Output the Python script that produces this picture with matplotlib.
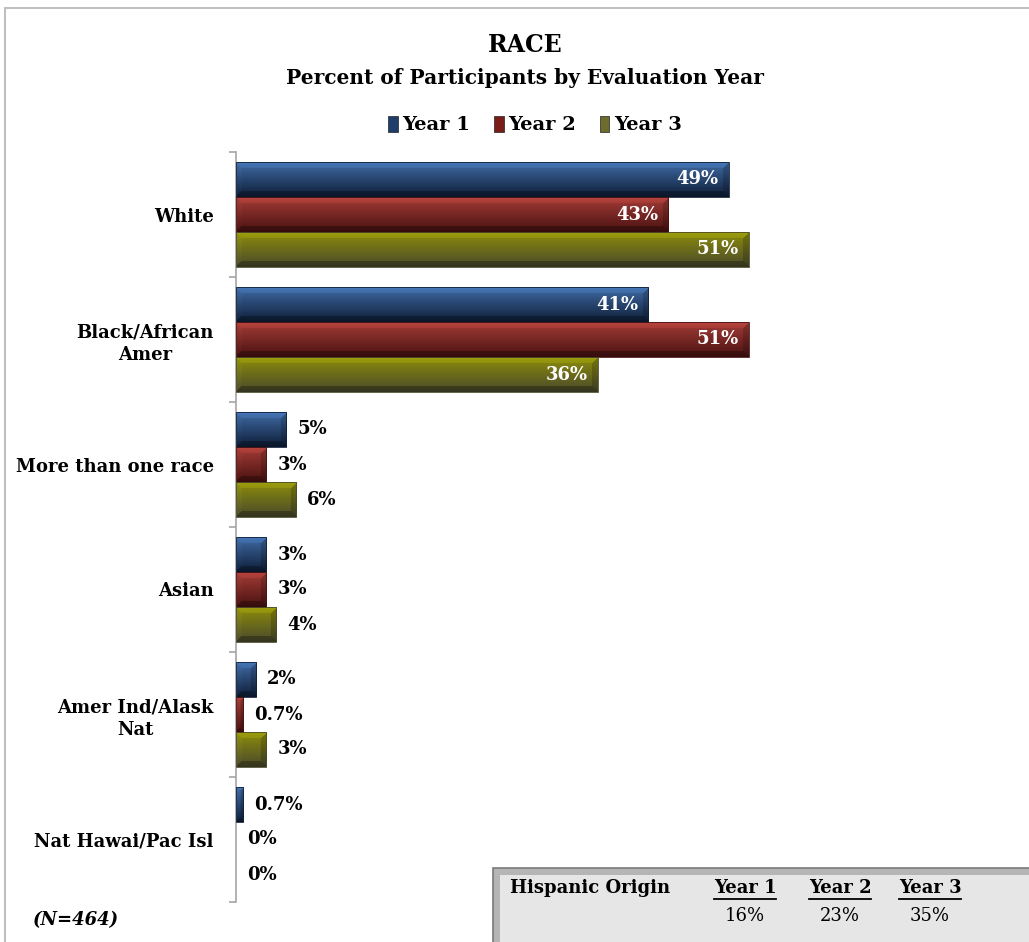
import numpy as np
import matplotlib.pyplot as plt
from matplotlib.patches import Rectangle, Patch
from matplotlib.colors import to_rgb

categories = ['White', 'Black/African\nAmer', 'More than one race', 'Asian',
              'Amer Ind/Alask\nNat', 'Nat Hawai/Pac Isl']
years = ['Year 1', 'Year 2', 'Year 3']
year1 = [49, 41, 5, 3, 2, 0.7]
year2 = [43, 51, 3, 3, 0.7, 0]
year3 = [51, 36, 6, 4, 3, 0]
hispanic = ['16%', '23%', '35%']

# top / bottom shades for the bevelled bars
shades = [('#3f6aa3', '#0f1f3a'), ('#a33c37', '#4a1211'), ('#8c8c0a', '#4a4a2c')]
legend_colors = ['#1f3d6b', '#7a1c18', '#6d6c2c']

plt.rcParams['font.family'] = 'DejaVu Serif'

fig = plt.figure(figsize=(10.29, 9.42), dpi=100)
ax = fig.add_axes([236 / 1029, 40 / 942, 764 / 1029, 750 / 942])
ax.set_xlim(0, 76)
ax.set_ylim(5.5, -0.5)

h = 0.28
offsets = [-h, 0, h]
series = [year1, year2, year3]
ypos = np.arange(len(categories))


def fmt(v):
    return f'{v:g}%'


def bevel_image(top, bottom, wpx, hpx, b=6):
    top = np.array(to_rgb(top))
    bottom = np.array(to_rgb(bottom))
    wpx = max(int(round(wpx)), 1)
    hpx = max(int(round(hpx)), 1)
    yy, xx = np.mgrid[0:hpx, 0:wpx]
    t = (yy / max(hpx - 1, 1))[..., None]
    img = top * (1 - t) + bottom * t
    d_top, d_bot = yy, hpx - 1 - yy
    d_left, d_right = xx, wpx - 1 - xx
    dists = np.stack([d_top, d_bot, d_left, d_right])
    near = dists.argmin(axis=0)
    inband = dists.min(axis=0) < b
    factor = np.ones((hpx, wpx))
    factor[(near == 0) & inband] = 1.12
    factor[(near == 1) & inband] = 0.72
    factor[(near == 2) & inband] = 1.05
    factor[(near == 3) & inband] = 0.82
    img = np.clip(img * factor[..., None], 0, 1)
    return img


px_per_unit_x = 764 / 76
px_per_unit_y = 750 / 6

for k, vals in enumerate(series):
    bars = ax.barh(ypos + offsets[k], vals, height=h, color='none',
                   edgecolor='none', label=years[k])
    for bar, v in zip(bars, vals):
        if v <= 0:
            continue
        x0, y0 = bar.get_x(), bar.get_y()
        w, hh = bar.get_width(), bar.get_height()
        img = bevel_image(shades[k][0], shades[k][1],
                          w * px_per_unit_x, hh * px_per_unit_y)
        ax.imshow(img, extent=(x0, x0 + w, y0 + hh, y0), aspect='auto',
                  interpolation='bilinear', zorder=2)
        ax.add_patch(Rectangle((x0, y0), w, hh, fill=False,
                               edgecolor=shades[k][1], lw=0.6, zorder=3))
    for yc, v in zip(ypos + offsets[k], vals):
        if v >= 20:
            ax.text(v - 1.0, yc, fmt(v), ha='right', va='center',
                    color='white', fontsize=13, fontweight='bold', zorder=4)
        else:
            ax.text(v + 1.1, yc, fmt(v), ha='left', va='center',
                    color='black', fontsize=13, fontweight='bold', zorder=4)

ax.set_xlim(0, 76)
ax.set_ylim(5.5, -0.5)

for side in ['top', 'right', 'bottom']:
    ax.spines[side].set_visible(False)
ax.spines['left'].set_color('#a6a6a6')
ax.spines['left'].set_linewidth(1.2)
ax.set_xticks([])
ax.set_yticks(ypos)
ax.set_yticklabels(categories, fontsize=13, fontweight='bold',
                   multialignment='center', linespacing=1.35)
ax.set_yticks(np.arange(-0.5, 6.0, 1.0), minor=True)
ax.tick_params(axis='y', which='major', length=0, pad=16)
ax.tick_params(axis='y', which='minor', length=5, color='#a6a6a6', width=1.2)

fig.text(0.51, 1 - 45 / 942, 'RACE', ha='center', va='center',
         fontsize=17, fontweight='bold')
fig.text(0.51, 1 - 78 / 942, 'Percent of Participants by Evaluation Year',
         ha='center', va='center', fontsize=14.5, fontweight='bold')

handles = [Patch(facecolor=c, edgecolor='#202020', lw=0.5) for c in legend_colors]
fig.legend(handles, years, loc='center', bbox_to_anchor=(535 / 1029, 1 - 125 / 942),
           ncol=3, frameon=False, prop={'size': 14, 'weight': 'bold'},
           handlelength=0.5, handleheight=0.9, handletextpad=0.25, columnspacing=1.2)

# figure outline
fig.patches.append(Rectangle((5 / 1029, -0.1), 1.1, 1 - 8 / 942 + 0.1,
                             transform=fig.transFigure, fill=False,
                             edgecolor='#bfbfbf', lw=1.5))

fig.text(33 / 1029, 1 - 920 / 942, '(N=464)', ha='left', va='center',
         fontsize=13, fontweight='bold', style='italic')

# Hispanic origin summary box
bx0, by1 = 493 / 1029, 1 - 868 / 942
fig.patches.append(Rectangle((bx0, -0.05), 1.1, by1 + 0.05, transform=fig.transFigure,
                             facecolor='#b5b5b5', edgecolor='#7a7a7a', lw=1.2))
fig.patches.append(Rectangle((bx0 + 7 / 1029, -0.05), 1.1, by1 + 0.05 - 7 / 942,
                             transform=fig.transFigure, facecolor='#e6e6e6',
                             edgecolor='none'))
fig.text(510 / 1029, 1 - 888 / 942, 'Hispanic Origin', ha='left', va='center',
         fontsize=13, fontweight='bold')
head_x = [745, 840, 930]
for x, yr, val in zip(head_x, years, hispanic):
    fig.text(x / 1029, 1 - 888 / 942, yr, ha='center', va='center',
             fontsize=13, fontweight='bold')
    fig.text(x / 1029, 1 - 916 / 942, val, ha='center', va='center', fontsize=13)

fig.canvas.draw()
renderer = fig.canvas.get_renderer()
for txt in fig.texts:
    if txt.get_text() in years:
        bb = txt.get_window_extent(renderer).transformed(fig.transFigure.inverted())
        fig.lines.append(plt.Line2D([bb.x0, bb.x1], [bb.y0 - 0.002, bb.y0 - 0.002],
                                    transform=fig.transFigure, color='black', lw=1.3))

fig.savefig('out.png', dpi=100)
